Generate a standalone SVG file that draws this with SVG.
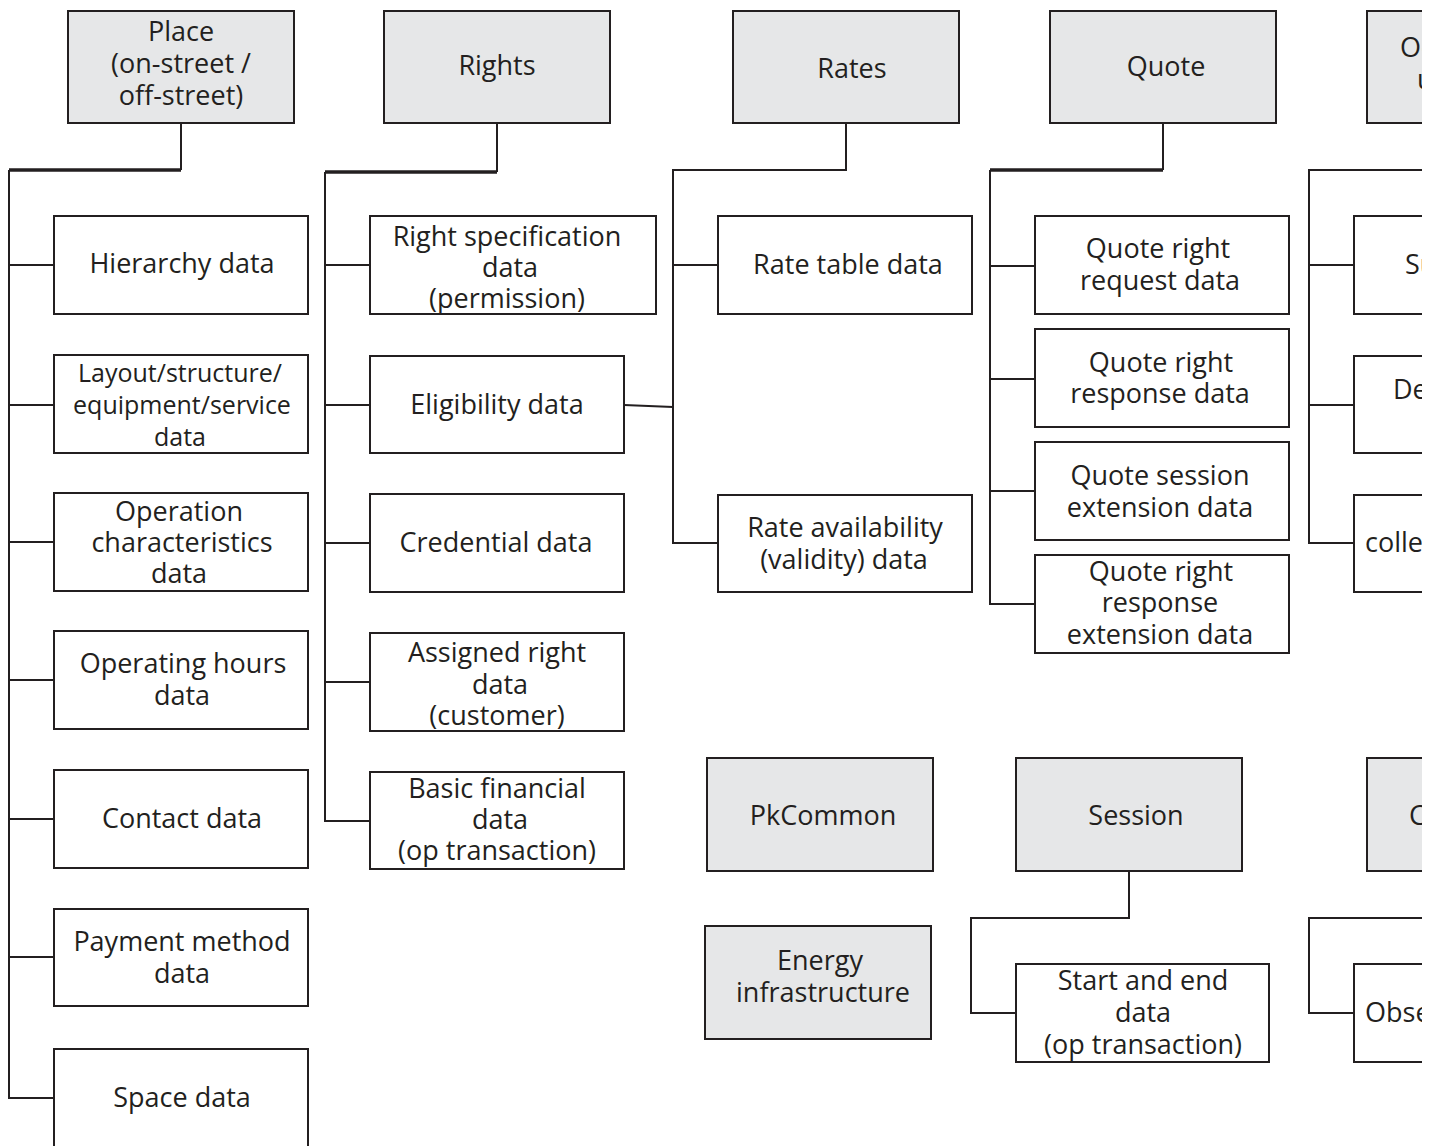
<svg xmlns="http://www.w3.org/2000/svg" width="1439" height="1146" viewBox="0 0 1439 1146">
<defs>
<clipPath id="cut"><rect x="0" y="0" width="1422" height="1146"/></clipPath>
<style>
.pk{fill:#e6e7e8;stroke:#231f20;stroke-width:2}
.ch{fill:#ffffff;stroke:#231f20;stroke-width:2}
text{font-family:"Open Sans","Liberation Sans",sans-serif;font-size:27px;fill:#231f20;text-anchor:middle}
.sm{font-size:25px}
.st{text-anchor:start}
.cn{fill:none;stroke:#231f20;stroke-width:2}
.th{fill:none;stroke:#231f20;stroke-width:3.5}
</style>
</defs>
<rect x="0" y="0" width="1439" height="1146" fill="#ffffff"/>
<g clip-path="url(#cut)">
<g id="connectors">
<path class="cn" d="M181 123V170M9 170V1098H54M9 265H54M9 405H54M9 542H54M9 680H54M9 819H54M9 957H54"/>
<path class="th" d="M9 170H181"/>
<path class="cn" d="M497 123V172M325 172V821H370M325 265H370M325 405H370M325 543H370M325 682H370"/>
<path class="th" d="M325 172H497"/>
<path class="cn" d="M846 123V170H673V543H718M673 265H718M624 405L673 407"/>
<path class="cn" d="M1163 123V170M990 170V604H1035M990 266H1035M990 379H1035M990 491H1035"/>
<path class="th" d="M990 170H1163"/>
<path class="cn" d="M1422 170H1309V543H1354M1309 265H1354M1309 405H1354"/>
<path class="cn" d="M1129 871V918H971V1013H1016"/>
<path class="cn" d="M1422 918H1309V1013H1354"/>
</g>
<g id="place"><rect class="pk" x="68" y="11" width="226" height="112"/><text x="181" y="41">Place</text><text x="181" y="73">(on-street /</text><text x="181" y="105">off-street)</text></g>
<g id="rights"><rect class="pk" x="384" y="11" width="226" height="112"/><text x="497" y="75">Rights</text></g>
<g id="rates"><rect class="pk" x="733" y="11" width="226" height="112"/><text x="852" y="78">Rates</text></g>
<g id="quote"><rect class="pk" x="1050" y="11" width="226" height="112"/><text x="1166" y="76">Quote</text></g>
<g id="o-top"><rect class="pk" x="1367" y="11" width="226" height="112"/><text class="st" x="1400" y="57">Oc</text><text class="st" x="1417" y="89">u</text></g>

<g id="hierarchy"><rect class="ch" x="54" y="216" width="254" height="98"/><text x="182" y="273">Hierarchy data</text></g>
<g id="layout"><rect class="ch" x="54" y="355" width="254" height="98"/><text class="sm" x="180" y="382">Layout/structure/</text><text class="sm" x="182" y="414">equipment/service</text><text class="sm" x="180" y="446">data</text></g>
<g id="operation"><rect class="ch" x="54" y="493" width="254" height="98"/><text x="179" y="521">Operation</text><text x="182" y="552">characteristics</text><text x="179" y="583">data</text></g>
<g id="hours"><rect class="ch" x="54" y="631" width="254" height="98"/><text x="183" y="673">Operating hours</text><text x="182" y="705">data</text></g>
<g id="contact"><rect class="ch" x="54" y="770" width="254" height="98"/><text x="182" y="828">Contact data</text></g>
<g id="payment"><rect class="ch" x="54" y="909" width="254" height="97"/><text x="182" y="951">Payment method</text><text x="182" y="983">data</text></g>
<g id="space"><rect class="ch" x="54" y="1049" width="254" height="110"/><text x="182" y="1107">Space data</text></g>

<g id="rightspec"><rect class="ch" x="370" y="216" width="286" height="98"/><text x="507" y="246">Right specification</text><text x="510" y="277">data</text><text x="507" y="308">(permission)</text></g>
<g id="eligibility"><rect class="ch" x="370" y="356" width="254" height="97"/><text x="497" y="414">Eligibility data</text></g>
<g id="credential"><rect class="ch" x="370" y="494" width="254" height="98"/><text x="496" y="552">Credential data</text></g>
<g id="assigned"><rect class="ch" x="370" y="633" width="254" height="98"/><text x="497" y="662">Assigned right</text><text x="500" y="694">data</text><text x="497" y="725">(customer)</text></g>
<g id="financial"><rect class="ch" x="370" y="772" width="254" height="97"/><text x="497" y="798">Basic financial</text><text x="500" y="829">data</text><text x="497" y="860">(op transaction)</text></g>

<g id="ratetable"><rect class="ch" x="718" y="216" width="254" height="98"/><text x="848" y="274">Rate table data</text></g>
<g id="rateavail"><rect class="ch" x="718" y="495" width="254" height="97"/><text x="845" y="537">Rate availability</text><text x="844" y="569">(validity) data</text></g>

<g id="qreq"><rect class="ch" x="1035" y="216" width="254" height="98"/><text x="1158" y="258">Quote right</text><text x="1160" y="290">request data</text></g>
<g id="qresp"><rect class="ch" x="1035" y="329" width="254" height="98"/><text x="1161" y="372">Quote right</text><text x="1160" y="403">response data</text></g>
<g id="qsess"><rect class="ch" x="1035" y="442" width="254" height="98"/><text x="1160" y="485">Quote session</text><text x="1160" y="517">extension data</text></g>
<g id="qrespext"><rect class="ch" x="1035" y="555" width="254" height="98"/><text x="1161" y="581">Quote right</text><text x="1160" y="612">response</text><text x="1160" y="644">extension data</text></g>

<g id="s-box"><rect class="ch" x="1354" y="216" width="254" height="98"/><text class="st" x="1405" y="274">Su</text></g>
<g id="de-box"><rect class="ch" x="1354" y="356" width="254" height="97"/><text class="st" x="1393" y="399">De</text></g>
<g id="colle-box"><rect class="ch" x="1354" y="495" width="254" height="97"/><text class="st" x="1365" y="552">colle</text></g>

<g id="pkcommon"><rect class="pk" x="707" y="758" width="226" height="113"/><text x="823" y="825">PkCommon</text></g>
<g id="session"><rect class="pk" x="1016" y="758" width="226" height="113"/><text x="1136" y="825">Session</text></g>
<g id="energy"><rect class="pk" x="705" y="926" width="226" height="113"/><text x="820" y="970">Energy</text><text x="823" y="1002">infrastructure</text></g>
<g id="startend"><rect class="ch" x="1016" y="964" width="253" height="98"/><text x="1143" y="990">Start and end</text><text x="1143" y="1022">data</text><text x="1143" y="1054">(op transaction)</text></g>
<g id="c-box"><rect class="pk" x="1367" y="758" width="226" height="113"/><text class="st" x="1409" y="825">C</text></g>
<g id="obse-box"><rect class="ch" x="1354" y="964" width="254" height="98"/><text class="st" x="1365" y="1022">Obse</text></g>
</g>
</svg>
